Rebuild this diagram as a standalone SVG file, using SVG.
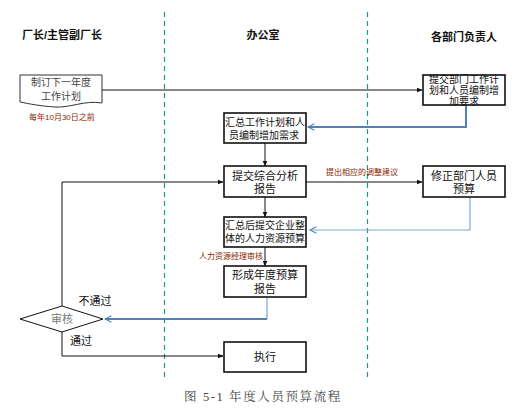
<svg xmlns="http://www.w3.org/2000/svg" width="522" height="408" viewBox="0 0 522 408">
<defs>
<style>
text{font-family:"Liberation Sans","Noto Sans CJK SC",sans-serif;fill:#111;}
.hd{font-size:11px;font-weight:bold;text-anchor:middle;}
.bx{fill:#fff;stroke:#111;stroke-width:1.6;}
.t10{font-size:10px;text-anchor:middle;}
.t11{font-size:11px;text-anchor:middle;}
.red{font-size:8px;fill:#8b2500;}
.lane{stroke:#1a9a96;stroke-width:1.2;stroke-dasharray:5,4;}
.ln{fill:none;stroke:#111;stroke-width:1;}
.bl{fill:none;stroke:#4f81bd;stroke-width:2;}
.bl2{fill:none;stroke:#7ea6dc;stroke-width:1.2;}
</style>
<marker id="ah" viewBox="0 0 10 10" refX="9" refY="5" markerWidth="6" markerHeight="6" orient="auto" markerUnits="userSpaceOnUse"><path d="M0,1 L10,5 L0,9 z" fill="#111"/></marker>
<marker id="ob" viewBox="0 0 10 10" refX="9" refY="5" markerWidth="8" markerHeight="8" orient="auto" markerUnits="userSpaceOnUse"><path d="M1,1 L9,5 L1,9" fill="none" stroke="#4f81bd" stroke-width="1.3"/></marker>
</defs>
<rect width="522" height="408" fill="#fff"/>
<g id="lanes">
<line class="lane" x1="164.5" y1="12" x2="164.5" y2="379"/>
<line class="lane" x1="367.5" y1="12" x2="367.5" y2="379"/>
<text class="hd" x="62" y="39">厂长/主管副厂长</text>
<text class="hd" x="263" y="39">办公室</text>
<text class="hd" x="464" y="41">各部门负责人</text>
</g>
<g id="connectors">
<line class="ln" x1="102" y1="90" x2="422" y2="90" marker-end="url(#ah)"/>
<polyline class="bl" points="466,106 466,127 308,127" marker-end="url(#ob)"/>
<line class="ln" x1="265" y1="143" x2="265" y2="166" marker-end="url(#ah)"/>
<line class="ln" x1="306" y1="182" x2="422" y2="182" marker-end="url(#ah)"/>
<text class="red" x="326" y="175">提出相应的调整建议</text>
<polyline class="bl2" points="470,198 470,230 310,230" marker-end="url(#ob)"/>
<line class="ln" x1="265" y1="197" x2="265" y2="217" marker-end="url(#ah)"/>
<line class="ln" x1="265" y1="247" x2="265" y2="266" marker-end="url(#ah)"/>
<text class="red" x="199" y="259">人力资源经理审核</text>
<polyline class="bl2" points="267,298 267,319"/>
<polyline class="bl" points="267,319 105,319" marker-end="url(#ob)"/>
<polyline class="ln" points="62,306 62,182 223,182" marker-end="url(#ah)"/>
<polyline class="ln" points="62,332 62,356 223,356" marker-end="url(#ah)"/>
<text class="t11" x="95" y="305">不通过</text>
<text class="t11" x="81" y="345">通过</text>
</g>
<g id="n-plan">
<path d="M20,75 L102,75 L102,103 C85,100 70,108 55,107 C40,106 30,104 20,102 Z" fill="#fff" stroke="#333" stroke-width="1"/>
<text class="t10" x="61" y="86" style="fill:#444">制订下一年度</text>
<text class="t10" x="61" y="100" style="fill:#444">工作计划</text>
<text class="red" x="29" y="120">每年10月30日之前</text>
</g>
<g id="n-dept-submit">
<rect class="bx" x="423" y="75" width="82" height="30"/>
<text class="t10" x="464" y="83">提交部门工作计</text>
<text class="t10" x="464" y="94">划和人员编制增</text>
<text class="t10" x="464" y="105">加要求</text>
</g>
<g id="n-summary">
<rect class="bx" x="224" y="113" width="82" height="30"/>
<text class="t10" x="265" y="126">汇总工作计划和人</text>
<text x="229" y="139" style="font-size:10px">员编制增加需求</text>
</g>
<g id="n-report">
<rect class="bx" x="224" y="166" width="82" height="31"/>
<text class="t11" x="265" y="180">提交综合分析</text>
<text class="t11" x="265" y="193">报告</text>
</g>
<g id="n-revise">
<rect class="bx" x="423" y="166" width="82" height="31"/>
<text class="t11" x="464" y="180">修正部门人员</text>
<text class="t11" x="464" y="193">预算</text>
</g>
<g id="n-total">
<rect class="bx" x="224" y="217" width="82" height="30"/>
<text class="t10" x="265" y="229">汇总后提交企业整</text>
<text class="t10" x="265" y="242">体的人力资源预算</text>
</g>
<g id="n-annual">
<rect class="bx" x="224" y="266" width="82" height="31"/>
<text class="t11" x="265" y="279">形成年度预算</text>
<text class="t11" x="265" y="293">报告</text>
</g>
<g id="n-review">
<polygon points="20,319 62,306 103,319 62,332" fill="#fff" stroke="#111" stroke-width="1"/>
<text class="t11" x="62" y="323" style="fill:#777">审核</text>
</g>
<g id="n-exec">
<rect class="bx" x="224" y="342" width="82" height="30"/>
<text class="t11" x="265" y="361">执行</text>
</g>
<text x="263" y="401" style="font-family:'Liberation Serif','Noto Serif CJK SC','Noto Sans CJK SC',serif;font-size:12.5px;fill:#444;text-anchor:middle;letter-spacing:1.6px">图 5-1  年度人员预算流程</text>
</svg>
